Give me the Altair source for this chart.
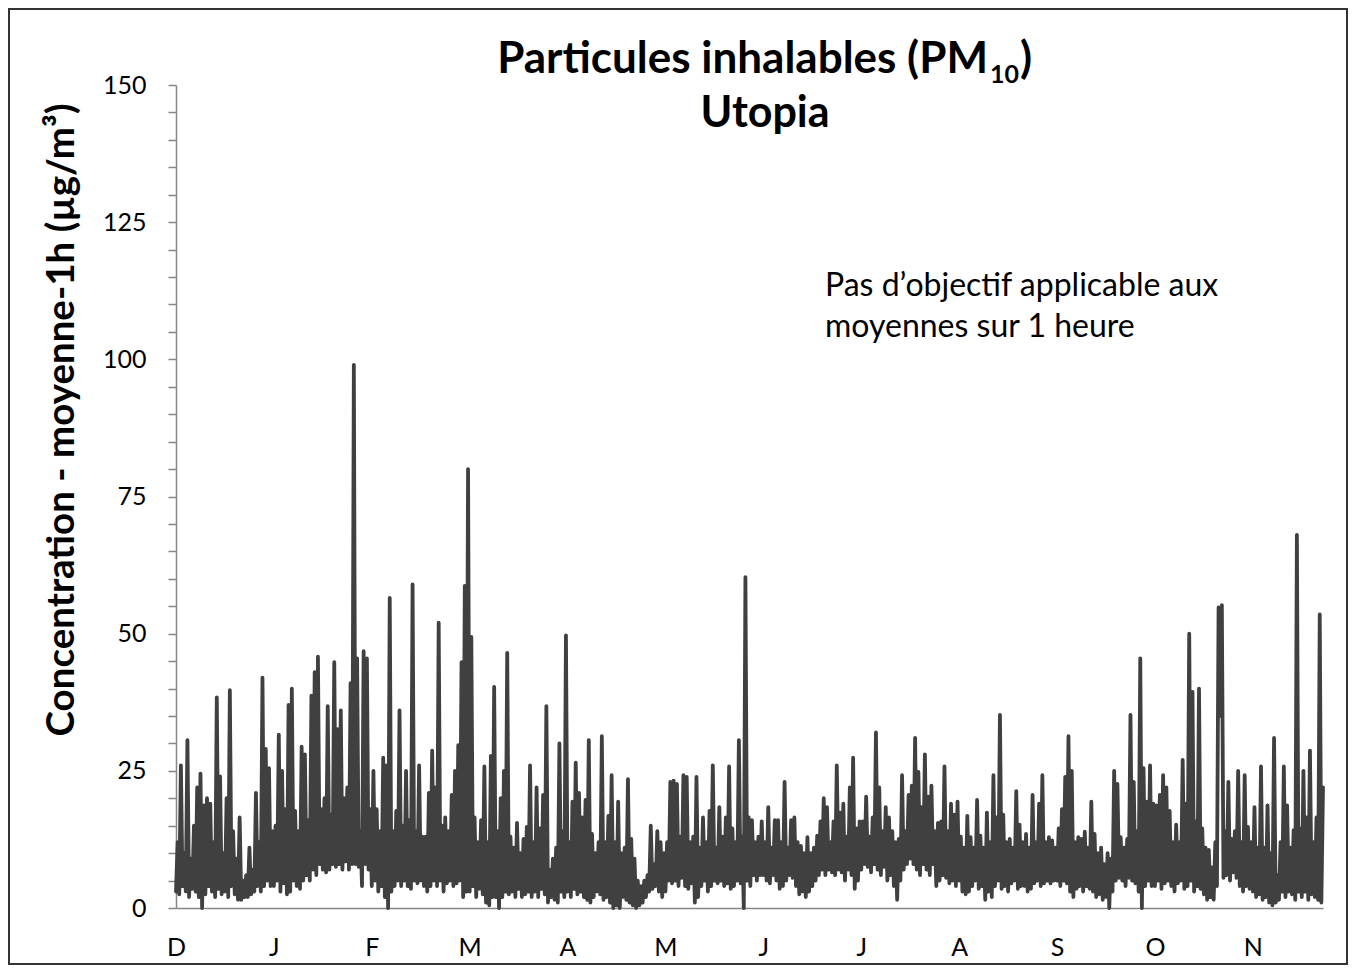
import altair as alt
import pandas as pd

# Daily high / low hourly PM10 values (µg/m³), one month per list
DEC_HI = [12, 26, 10, 30.6, 9, 15, 22, 24.5, 18.7, 20, 19, 12, 38.4, 24, 10, 20, 39.7, 14, 9, 16.5, 5, 6, 11, 7, 21, 12, 42, 29, 25.5, 14]
DEC_LO = [3, 2.5, 4, 3, 2, 3.5, 3, 2, 0, 2.5, 4, 3, 2, 3.5, 2.5, 3, 2, 4, 2.5, 1.5, 1.5, 2, 2, 2.5, 3, 4, 3, 4, 5, 4]
JAN_HI = [15, 31.6, 25, 18, 37, 40, 17.7, 14, 29.4, 28, 16, 38.7, 43, 45.8, 18, 20, 36.8, 17, 44.8, 32.6, 36, 20, 22, 41, 99, 45.5, 14, 46.8, 45.5, 18]
JAN_LO = [4, 5, 3, 4.5, 2.5, 3, 5, 4, 3.5, 5, 6, 5, 7, 6, 8, 7, 6.5, 7, 8, 7.5, 8, 7, 8.5, 7, 8, 8, 7.5, 4, 8, 7]
FEB_HI = [25, 18, 14, 27.4, 26, 56.5, 14, 17.7, 36, 15, 25, 16, 59, 14, 26, 13, 13, 21, 28.7, 22, 52, 15, 16.5, 14, 20.6, 25, 29.7, 44.8, 58.7, 80]
FEB_LO = [4, 5, 3, 4, 2, 0, 3, 4, 5, 4, 5, 4, 3.5, 5, 4.5, 5, 4, 3, 4, 5, 4, 5, 3, 4.5, 5, 4, 4.5, 5, 2, 3]
MAR_HI = [49.4, 16.5, 12, 16, 25.8, 12, 27.7, 40.3, 14, 20, 25, 46.5, 13, 11, 15.5, 10, 12.6, 14.8, 26, 12, 22, 14.5, 20.6, 36.8, 7, 9, 11, 30, 14, 49.7]
MAR_LO = [3, 4, 2, 3.5, 2.5, 1, 0.5, 2, 2, 0, 2, 3, 2.5, 3, 2, 3.5, 2, 2.5, 3, 2, 3, 2, 3.5, 2.5, 1, 2, 1.5, 1, 3, 2]
APR_HI = [12, 19.4, 26.5, 21, 16.5, 19.7, 30.6, 13.5, 10, 12, 31.3, 12, 16.8, 24.2, 12, 19.4, 10, 11, 23.5, 12.6, 9, 5, 4, 5, 6, 15, 8, 14, 12, 10]
APR_LO = [3, 2, 3.5, 2.5, 3, 2, 1.5, 1, 2, 3, 2.5, 1.5, 2, 1, 0, 0.5, 0, 2, 1.5, 1, 0.5, 0, 0.5, 1, 2, 3, 3.5, 4, 3, 2]
MAY_HI = [12, 23, 23.2, 22.6, 13, 24.2, 23.9, 12, 13, 23.9, 11, 16.5, 12, 17.7, 26, 11, 18.4, 13, 16.5, 25.8, 14.5, 12, 30.6, 13, 60.3, 16.5, 16, 12, 13, 15.8]
MAY_LO = [3, 5, 4.5, 5, 4, 5.5, 4, 3.5, 4.5, 1, 2, 4, 5, 3, 4, 5, 4.5, 5, 4, 4.5, 3.5, 4, 5, 4.5, 0, 5, 4, 6, 5, 6]
JUN_HI = [12, 18.4, 11, 16, 16, 12, 23, 11, 16, 16.5, 12, 11.3, 10, 12.9, 10, 11, 13.2, 15.8, 20, 18.4, 12, 15.8, 26, 17.4, 19, 13, 22, 27.4, 14.5, 15.8]
JUN_LO = [6, 5, 4.5, 6, 5, 3.5, 4, 5, 6, 5.5, 4, 2.5, 3, 2, 3, 4, 5, 6, 7, 6, 7, 6.5, 6, 7, 6.5, 5, 7, 6, 3.5, 5]
JUL_HI = [15.8, 20.3, 13, 16.5, 32, 22, 14, 18.4, 16.5, 14, 12, 12.6, 24.2, 14, 20.6, 22.3, 31, 24.8, 18.4, 28, 20.3, 22.3, 14, 15.5, 15.8, 25.8, 14, 19, 17, 19.4]
JUL_LO = [7, 8, 7.5, 6.5, 8, 7, 6, 7.5, 5, 6, 4, 1.5, 5, 7, 8, 9, 8, 7, 6, 8, 7, 6, 8, 4, 5, 6, 5.5, 4.5, 5, 4]
AUG_HI = [13, 11, 16.8, 12.9, 11, 19.7, 13.2, 11, 17.4, 12, 24.2, 16.5, 35.2, 17, 12, 12.6, 11, 21.3, 15.2, 12, 13.5, 11, 20.6, 12, 19, 24.2, 12, 12.9, 12.3, 11]
AUG_LO = [5, 3, 2.5, 3, 4, 5, 3.5, 4, 1.5, 3, 2, 4, 5, 3.5, 4, 3, 4.5, 5, 3.5, 4, 4, 3, 3.5, 4.5, 5, 4, 4.5, 5, 4.5, 5]
SEP_HI = [14.5, 18, 23.9, 31.3, 25, 12, 12.9, 12.6, 13.9, 11, 19.4, 13.5, 10, 11, 8, 10, 9, 25, 22.6, 12.9, 11, 12.6, 35.2, 23, 14, 45.5, 25.5, 19.4, 26, 19]
SEP_LO = [5, 4, 5, 4.5, 3, 2, 3.5, 4, 3, 4, 3.5, 3, 2, 2.5, 1.5, 2, 0, 3, 5, 5.5, 5, 4, 5.5, 5, 4.5, 3, 0, 4, 5, 4]
OCT_HI = [18.7, 20.6, 24.2, 22, 17.7, 12, 15.2, 12, 27, 19, 50, 39.4, 15.8, 40, 14.5, 11, 10.6, 7.4, 12, 54.8, 55.2, 14, 23, 12.6, 14, 25, 12, 24.2, 14.8, 12]
OCT_LO = [4, 5, 3.5, 4.5, 5, 4, 3, 4.5, 5, 3.5, 4, 5, 3, 4, 3.5, 2.5, 1.5, 2, 1.5, 4, 35, 5.5, 6, 5, 6.5, 5.5, 4, 3, 4, 3.5]
NOV_HI = [18.4, 11, 25.8, 11, 18.7, 10, 31, 6, 12, 25.8, 18.7, 11, 14.2, 68, 14.5, 25, 16.5, 28.7, 12, 16.5, 53.5, 22]
NOV_LO = [3, 2, 2.5, 1.5, 2, 1, 0.5, 1, 1.5, 3, 2, 3, 2.5, 1.5, 3, 2, 3, 1.5, 2.5, 2, 1.5, 1]

MONTH_LABELS = ["D", "J", "F", "M", "A", "M", "J", "J", "A", "S", "O", "N"]
DAYS_PER_LABEL = 30
Y_TICKS = list(range(0, 151, 5))

TITLE_MAIN = "Particules inhalables (PM"
TITLE_SUB = "10"
TITLE_CLOSE = ")"
TITLE_LINE2 = "Utopia"
Y_TITLE = "Concentration - moyenne-1h (µg/m³)"
NOTE_1 = "Pas d’objectif applicable aux"
NOTE_2 = "moyennes sur 1 heure"

FONT = "Lato"
LINE_COLOR = "#404040"
AXIS_COLOR = "#868686"

hi = DEC_HI + JAN_HI + FEB_HI + MAR_HI + APR_HI + MAY_HI + JUN_HI + JUL_HI + AUG_HI + SEP_HI + OCT_HI + NOV_HI
lo = DEC_LO + JAN_LO + FEB_LO + MAR_LO + APR_LO + MAY_LO + JUN_LO + JUL_LO + AUG_LO + SEP_LO + OCT_LO + NOV_LO
n = min(len(hi), len(lo))
rows = []
for d in range(n):
    rows.append({"t": d, "v": lo[d]})
    rows.append({"t": d + 0.5, "v": hi[d]})
df = pd.DataFrame(rows)
x_max = n - 0.5

month_pos = [i * DAYS_PER_LABEL for i in range(len(MONTH_LABELS))]
label_arr = "[" + ",".join("'" + m + "'" for m in MONTH_LABELS) + "]"

W, H = 1147, 823
PL, PT, PR, PB = 168, 77, 25, 57

line = alt.Chart(df).mark_line(
    color=LINE_COLOR, strokeWidth=3.8, strokeJoin="round", strokeCap="round"
).encode(
    x=alt.X("t:Q",
            scale=alt.Scale(domain=[0, x_max], nice=False, zero=False),
            axis=alt.Axis(values=month_pos,
                          labelExpr=label_arr + "[round(datum.value/" + str(DAYS_PER_LABEL) + ")]",
                          title=None, ticks=False, tickSize=0, grid=False,
                          labelPadding=27, labelFlush=False, labelOverlap=False,
                          domainColor=AXIS_COLOR, domainWidth=1.5,
                          labelFont=FONT, labelFontSize=25, labelColor="black")),
    y=alt.Y("v:Q",
            scale=alt.Scale(domain=[0, 150], nice=False, zero=True),
            axis=alt.Axis(values=Y_TICKS,
                          labelExpr="datum.value % 25 == 0 ? datum.label : ''",
                          title=None, grid=False, tickSize=8, tickColor=AXIS_COLOR,
                          tickWidth=1.5, labelPadding=22,
                          domainColor=AXIS_COLOR, domainWidth=1.5,
                          labelFont=FONT, labelFontSize=25, labelColor="black",
                          labelOverlap=False))
)

def text_layer(txt, x, y, size, bold=True, align="left", baseline="alphabetic", angle=0):
    return alt.Chart(pd.DataFrame({"s": [txt]})).mark_text(
        font=FONT, fontSize=size, fontWeight="bold" if bold else "normal",
        align=align, baseline=baseline, angle=angle, color="black"
    ).encode(x=alt.value(x), y=alt.value(y), text="s:N")

frame = alt.Chart(pd.DataFrame({"k": [0]})).mark_rect(
    fill="white", fillOpacity=0, stroke="#333333", strokeWidth=2
).encode(x=alt.value(1 - PL), x2=alt.value(W + PR - 1),
         y=alt.value(1 - PT), y2=alt.value(H + PB - 1))

layers = [
    frame,
    line,
    text_layer(TITLE_MAIN, 988 - 176, 73 - 85, 44, align="right"),
    text_layer(TITLE_SUB, 990 - 176, 83 - 85, 25),
    text_layer(TITLE_CLOSE, 1020 - 176, 73 - 85, 44),
    text_layer(TITLE_LINE2, 765 - 176, 127 - 85, 43, align="center"),
    text_layer(Y_TITLE, 62 - 176, 420 - 85, 38.5, align="center", baseline="middle", angle=270),
    text_layer(NOTE_1, 825 - 176, 296 - 85, 32, bold=False),
    text_layer(NOTE_2, 825 - 176, 337 - 85, 32, bold=False),
]

chart = alt.layer(*layers).properties(
    width=W, height=H,
    autosize=alt.AutoSizeParams(type="none"),
    padding={"left": PL, "top": PT, "right": PR, "bottom": PB},
    background="white",
).configure_view(strokeWidth=0)

chart.save("out.html", embed_options={"renderer": "svg", "actions": False})
